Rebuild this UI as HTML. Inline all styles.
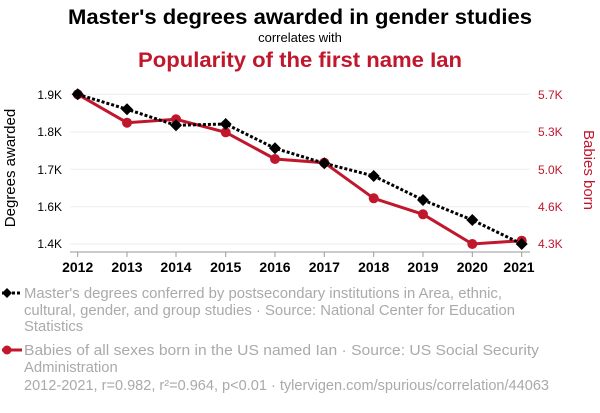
<!DOCTYPE html>
<html><head><style>
body{margin:0;background:#fff;width:600px;height:408px;overflow:hidden;font-family:"Liberation Sans",sans-serif;}
</style></head><body>
<svg width="600" height="408" xmlns="http://www.w3.org/2000/svg" font-family="Liberation Sans, sans-serif">
<text x="300" y="24" text-anchor="middle" font-size="21" font-weight="bold" fill="#000" textLength="464" lengthAdjust="spacingAndGlyphs">Master's degrees awarded in gender studies</text>
<text x="300" y="42" text-anchor="middle" font-size="13" fill="#000">correlates with</text>
<text x="300" y="67" text-anchor="middle" font-size="21" font-weight="bold" fill="#c0172d" textLength="324" lengthAdjust="spacingAndGlyphs">Popularity of the first name Ian</text>
<g stroke="#eee" stroke-width="1">
<line x1="70" x2="530" y1="94.3" y2="94.3"/><line x1="70" x2="530" y1="132" y2="132"/><line x1="70" x2="530" y1="169.3" y2="169.3"/><line x1="70" x2="530" y1="206.7" y2="206.7"/><line x1="70" x2="530" y1="244" y2="244"/>
</g>
<g font-size="12" fill="#000" text-anchor="end">
<text x="62" y="99">1.9K</text><text x="62" y="136">1.8K</text><text x="62" y="174">1.7K</text><text x="62" y="211">1.6K</text><text x="62" y="248">1.4K</text>
</g>
<g font-size="12" fill="#c0172d" text-anchor="start">
<text x="538" y="99">5.7K</text><text x="538" y="136">5.3K</text><text x="538" y="174">5.0K</text><text x="538" y="211">4.6K</text><text x="538" y="248">4.3K</text>
</g>
<text transform="translate(15,168) rotate(-90)" text-anchor="middle" font-size="15" fill="#000">Degrees awarded</text>
<text transform="translate(584,170) rotate(90)" text-anchor="middle" font-size="15" fill="#c0172d">Babies born</text>
<line x1="70" x2="530" y1="252" y2="252" stroke="#999"/>
<g stroke="#999">
<line x1="77.7" x2="77.7" y1="252" y2="257"/><line x1="127" x2="127" y1="252" y2="257"/><line x1="176" x2="176" y1="252" y2="257"/><line x1="225.7" x2="225.7" y1="252" y2="257"/><line x1="275" x2="275" y1="252" y2="257"/><line x1="324.3" x2="324.3" y1="252" y2="257"/><line x1="373.7" x2="373.7" y1="252" y2="257"/><line x1="423" x2="423" y1="252" y2="257"/><line x1="472.3" x2="472.3" y1="252" y2="257"/><line x1="521.7" x2="521.7" y1="252" y2="257"/>
</g>
<g font-size="14" font-weight="bold" text-anchor="middle" fill="#000">
<text x="77.7" y="272">2012</text><text x="127" y="272">2013</text><text x="176" y="272">2014</text><text x="225.7" y="272">2015</text><text x="275" y="272">2016</text><text x="324.3" y="272">2017</text><text x="373.7" y="272">2018</text><text x="423" y="272">2019</text><text x="472.3" y="272">2020</text><text x="519" y="272">2021</text>
</g>
<polyline fill="none" stroke="#c0172d" stroke-width="3" points="77.7,94.3 127,122.7 176,119.3 225.7,132.3 275,159 324.3,162.7 373.7,198.3 423,214.3 472.3,244 521.7,240.7"/>
<g fill="#c0172d">
<circle cx="77.7" cy="94.3" r="5"/><circle cx="127" cy="122.7" r="5"/><circle cx="176" cy="119.3" r="5"/><circle cx="225.7" cy="132.3" r="5"/><circle cx="275" cy="159" r="5"/><circle cx="324.3" cy="162.7" r="5"/><circle cx="373.7" cy="198.3" r="5"/><circle cx="423" cy="214.3" r="5"/><circle cx="472.3" cy="244" r="5"/><circle cx="521.7" cy="240.7" r="5"/>
</g>
<polyline fill="none" stroke="#000" stroke-width="3" stroke-dasharray="3,2" points="77.7,94.3 127,109.3 176,125.3 225.7,124 275,148.3 324.3,163.3 373.7,176 423,200 472.3,220 521.7,244"/>
<g fill="#000">
<path d="M77.7,88.3l6,6l-6,6l-6,-6z"/><path d="M127,103.3l6,6l-6,6l-6,-6z"/><path d="M176,119.3l6,6l-6,6l-6,-6z"/><path d="M225.7,118l6,6l-6,6l-6,-6z"/><path d="M275,142.3l6,6l-6,6l-6,-6z"/><path d="M324.3,157.3l6,6l-6,6l-6,-6z"/><path d="M373.7,170l6,6l-6,6l-6,-6z"/><path d="M423,194l6,6l-6,6l-6,-6z"/><path d="M472.3,214l6,6l-6,6l-6,-6z"/><path d="M521.7,238l6,6l-6,6l-6,-6z"/>
</g>
<line x1="2" x2="22" y1="293" y2="293" stroke="#000" stroke-width="3" stroke-dasharray="3,2"/>
<path d="M7,288l5,5l-5,5l-5,-5z" fill="#000"/>
<g font-size="14.8" fill="#aaa">
<text x="24" y="298" textLength="478" lengthAdjust="spacingAndGlyphs">Master's degrees conferred by postsecondary institutions in Area, ethnic,</text>
<text x="24" y="315" textLength="491" lengthAdjust="spacingAndGlyphs">cultural, gender, and group studies · Source: National Center for Education</text>
<text x="24" y="331">Statistics</text>
<text x="24" y="355" textLength="515" lengthAdjust="spacingAndGlyphs">Babies of all sexes born in the US named Ian · Source: US Social Security</text>
<text x="24" y="372">Administration</text>
<text x="24" y="390" textLength="525" lengthAdjust="spacingAndGlyphs">2012-2021, r=0.982, r²=0.964, p&lt;0.01 · tylervigen.com/spurious/correlation/44063</text>
</g>
<line x1="2" x2="22" y1="350" y2="350" stroke="#c0172d" stroke-width="3"/>
<circle cx="7" cy="350" r="4.5" fill="#c0172d"/>
</svg>
</body></html>
